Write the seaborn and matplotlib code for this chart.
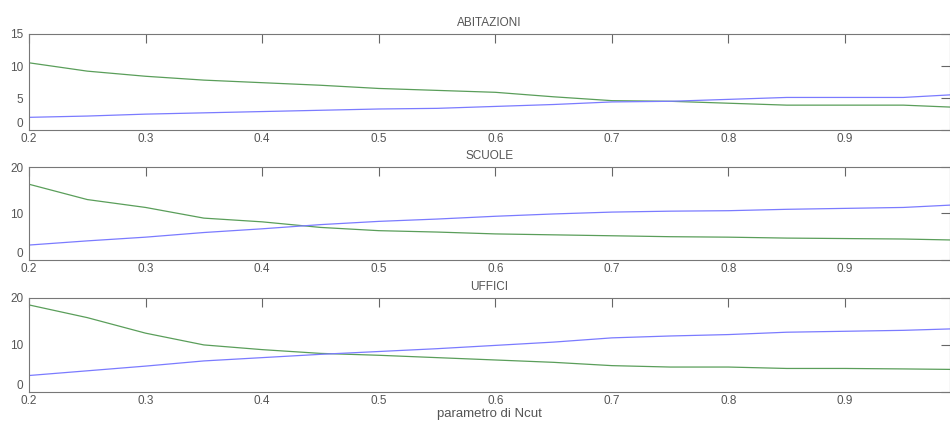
import matplotlib.pyplot as plt
import numpy as np
import pandas as pd
import seaborn as sns

# parametro di Ncut
ncut = [0.2, 0.25, 0.3, 0.35, 0.4, 0.45, 0.5, 0.55, 0.6, 0.65, 0.7, 0.75, 0.8, 0.85, 0.9, 0.95, 0.99]

# ABITAZIONI
abit_green = [10.5, 9.2, 8.4, 7.8, 7.4, 7.0, 6.5, 6.2, 5.9, 5.2, 4.6, 4.5, 4.2, 3.9, 3.9, 3.9, 3.6]
abit_blue = [2.0, 2.2, 2.5, 2.7, 2.9, 3.1, 3.3, 3.4, 3.7, 4.0, 4.4, 4.5, 4.8, 5.1, 5.1, 5.1, 5.5]

# SCUOLE
scuo_green = [16.3, 13.0, 11.3, 9.0, 8.2, 7.0, 6.3, 6.0, 5.6, 5.4, 5.2, 5.0, 4.9, 4.7, 4.6, 4.5, 4.3]
scuo_blue = [3.2, 4.1, 4.9, 5.9, 6.7, 7.6, 8.3, 8.8, 9.4, 9.9, 10.3, 10.5, 10.6, 10.9, 11.1, 11.3, 11.8]

# UFFICI
uff_green = [18.5, 15.8, 12.5, 10.0, 9.0, 8.2, 7.8, 7.3, 6.8, 6.3, 5.6, 5.3, 5.3, 5.0, 5.0, 4.9, 4.8]
uff_blue = [3.5, 4.5, 5.5, 6.6, 7.3, 8.0, 8.6, 9.2, 9.9, 10.6, 11.5, 11.9, 12.2, 12.7, 12.9, 13.1, 13.4]

titles = ["ABITAZIONI", "SCUOLE", "UFFICI"]
greens = [abit_green, scuo_green, uff_green]
blues = [abit_blue, scuo_blue, uff_blue]
yticks = [[0, 5, 10, 15], [0, 10, 20], [0, 10, 20]]
xticks = [0.2, 0.3, 0.4, 0.5, 0.6, 0.7, 0.8, 0.9]

sns.set_style("white")
plt.rcParams['font.family'] = ['Liberation Sans', 'DejaVu Sans']

fig = plt.figure(figsize=(9.5, 4.24), dpi=100)
boxes = [
    [0.0305, 0.693, 0.9695, 0.227],
    [0.0305, 0.387, 0.9695, 0.219],
    [0.0305, 0.0755, 0.9695, 0.222],
]

gray = "#555555"
for box, title, g, b, yt in zip(boxes, titles, greens, blues, yticks):
    ax = fig.add_axes(box)
    df = pd.DataFrame({"x": ncut, "g": g, "b": b})
    sns.lineplot(data=df, x="x", y="g", ax=ax, color="#5a9e5a", lw=0.9)
    sns.lineplot(data=df, x="x", y="b", ax=ax, color="#7b7bff", lw=0.9)
    ax.set_xlim(0.2, 0.99)
    ax.set_ylim(yt[0], yt[-1])
    ax.set_yticks(yt)
    ax.set_xticks(xticks)
    ax.set_xticklabels([f"{v:.1f}" for v in xticks])
    ax.tick_params(direction="in", top=True, right=True, length=6.5, width=0.8,
                   colors="#666666", labelcolor=gray, labelsize=8.5)
    ax.tick_params(axis="x", pad=2)
    ax.tick_params(axis="y", pad=4)
    # lift the "0" label a touch so it sits clear of the "0.2" below it
    ax.get_yticklabels()[0].set_verticalalignment("bottom")
    for s in ax.spines.values():
        s.set_color("#777777")
        s.set_linewidth(0.8)
    ax.set_xlabel("")
    ax.set_ylabel("")
    ax.set_title(title, fontsize=8.5, color=gray, pad=6)

ax.set_xlabel("parametro di Ncut", fontsize=9.5, color=gray, labelpad=1)

fig.savefig("out.png", dpi=100)
